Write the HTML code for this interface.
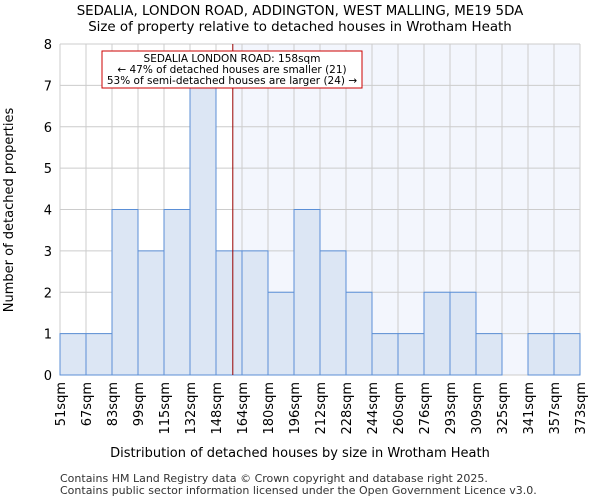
<!DOCTYPE html>
<html><head><meta charset="utf-8"><style>
body{margin:0;background:#fff;font-family:"DejaVu Sans","Liberation Sans",sans-serif}
</style></head><body>
<svg id="c" width="600" height="500" xmlns="http://www.w3.org/2000/svg" font-family="DejaVu Sans, Liberation Sans, sans-serif"></svg>
<script>
const binLabels=["51sqm","67sqm","83sqm","99sqm","115sqm","132sqm","148sqm","164sqm","180sqm","196sqm","212sqm","228sqm","244sqm","260sqm","276sqm","293sqm","309sqm","325sqm","341sqm","357sqm","373sqm"];
const counts=[1,1,4,3,4,7,3,3,2,4,3,2,1,1,2,2,1,0,1,1];
const yTicks=[0,1,2,3,4,5,6,7,8];
const subjectValue=158;
const minVal=51,maxVal=373;
const svg=document.getElementById('c');
const NS='http://www.w3.org/2000/svg';
const L=60,R=580,T=44,B=375,yMax=8;
const nb=counts.length;
const xb=i=>L+i*(R-L)/nb;
const xv=v=>L+(v-minVal)/(maxVal-minVal)*(R-L);
const y=v=>B-v/yMax*(B-T);
function mk(t,a,txt){const e=document.createElementNS(NS,t);for(const k in a)e.setAttribute(k,a[k]);if(txt!=null)e.textContent=txt;svg.appendChild(e);return e;}
const sx=xv(subjectValue);
let e=mk('rect',{x:sx,y:T,width:R-sx,height:B-T,fill:'#f3f6fd'});


for(let i=0;i<=nb;i++){e=mk('line',{x1:xb(i),x2:xb(i),y1:T,y2:B,stroke:'#cccccc'});

}
yTicks.forEach(t=>{e=mk('line',{x1:L,x2:R,y1:y(t),y2:y(t),stroke:'#cccccc'});


e=mk('text',{x:L-8,y:y(t)+5,'text-anchor':'end','font-size':13,fill:'#000'},t);

});
counts.forEach((c,i)=>{if(c<=0)return;e=mk('rect',{x:xb(i),y:y(c),width:xb(i+1)-xb(i),height:B-y(c),fill:'#dce6f4',stroke:'#5b8fd6','stroke-width':1});

});
binLabels.forEach((l,i)=>{const X=xb(i);e=mk('text',{x:0,y:0,transform:`translate(${X+5},382) rotate(-90)`,'text-anchor':'end','font-size':13,fill:'#000'},l);

});
e=mk('line',{x1:sx,x2:sx,y1:T,y2:B,stroke:'#990000','stroke-width':1});


e=mk('rect',{x:102,y:51,width:260,height:37,fill:'#fff',stroke:'#cc0000'});


[["SEDALIA LONDON ROAD: 158sqm",62],["← 47% of detached houses are smaller (21)",73],["53% of semi-detached houses are larger (24) →",84]].forEach(([t,yy])=>{e=mk('text',{x:232,y:yy,'text-anchor':'middle','font-size':10.5,fill:'#000'},t);

});
e=mk('text',{x:300,y:15,'text-anchor':'middle','font-size':13.4},"SEDALIA, LONDON ROAD, ADDINGTON, WEST MALLING, ME19 5DA");


e=mk('text',{x:300,y:31,'text-anchor':'middle','font-size':13.4},"Size of property relative to detached houses in Wrotham Heath");


e=mk('text',{x:300,y:457,'text-anchor':'middle','font-size':13},"Distribution of detached houses by size in Wrotham Heath");


e=mk('text',{x:0,y:0,transform:'translate(13,210) rotate(-90)','text-anchor':'middle','font-size':13},"Number of detached properties");


e=mk('text',{x:60,y:482,'font-size':11,fill:'#333'},"Contains HM Land Registry data © Crown copyright and database right 2025.");


e=mk('text',{x:60,y:494,'font-size':11,fill:'#333'},"Contains public sector information licensed under the Open Government Licence v3.0.");


</script>
</body></html>
